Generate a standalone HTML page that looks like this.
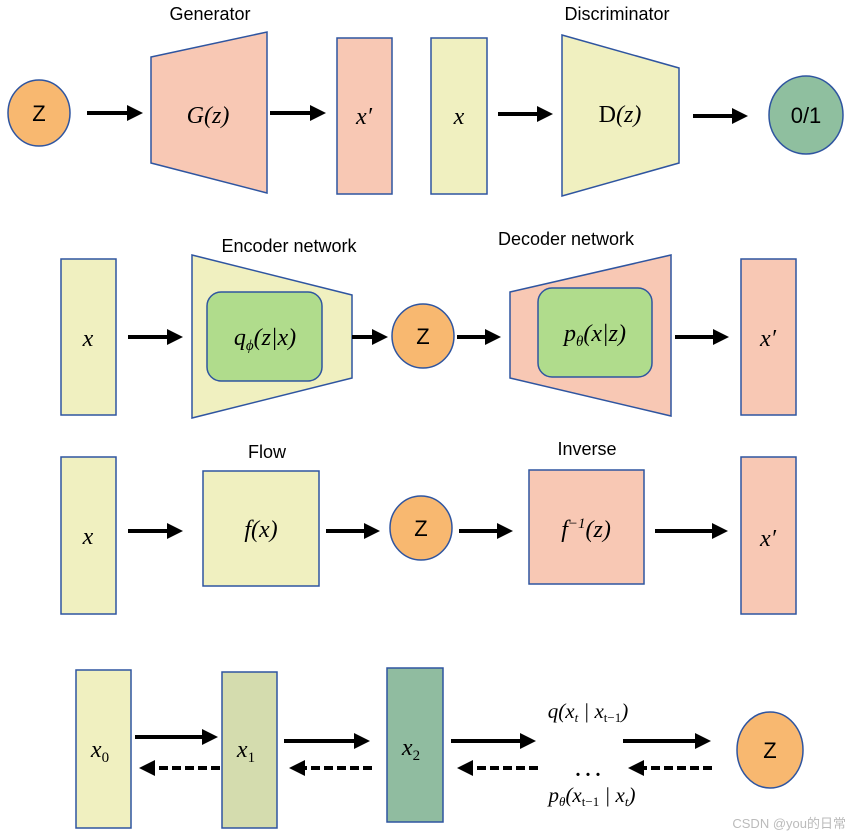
<!DOCTYPE html>
<html><head><meta charset="utf-8"><style>body{margin:0;background:#fff}svg{display:block}</style></head><body>
<svg width="850" height="837" viewBox="0 0 850 837" xmlns="http://www.w3.org/2000/svg">
<defs>
<marker id="a" markerWidth="4" markerHeight="4" refX="3" refY="2" orient="auto" markerUnits="strokeWidth"><path d="M0,0 L4,2 L0,4 z" fill="#000"/></marker>
</defs>
<g stroke="#2f55a0" stroke-width="1.5">
<ellipse cx="39" cy="113" rx="31" ry="33" fill="#f8b870"/>
<polygon points="151,57 267,32 267,193 151,163" fill="#f8c8b4"/>
<rect x="337" y="38" width="55" height="156" fill="#f8c8b4"/>
<rect x="431" y="38" width="56" height="156" fill="#f0f0c0"/>
<polygon points="562,35 679,68 679,163 562,196" fill="#f0f0c0"/>
<ellipse cx="806" cy="115" rx="37" ry="39" fill="#8fbf9f"/>

<rect x="61" y="259" width="55" height="156" fill="#f0f0c0"/>
<polygon points="192,255 352,295 352,378 192,418" fill="#f0f0c0"/>
<rect x="207" y="292" width="115" height="89" rx="14" fill="#b0dc8c"/>
<ellipse cx="423" cy="336" rx="31" ry="32" fill="#f8b870"/>
<polygon points="510,292 671,255 671,416 510,378" fill="#f8c8b4"/>
<rect x="538" y="288" width="114" height="89" rx="14" fill="#b0dc8c"/>
<rect x="741" y="259" width="55" height="156" fill="#f8c8b4"/>

<rect x="61" y="457" width="55" height="157" fill="#f0f0c0"/>
<rect x="203" y="471" width="116" height="115" fill="#f0f0c0"/>
<ellipse cx="421" cy="528" rx="31" ry="32" fill="#f8b870"/>
<rect x="529" y="470" width="115" height="114" fill="#f8c8b4"/>
<rect x="741" y="457" width="55" height="157" fill="#f8c8b4"/>

<rect x="76" y="670" width="55" height="158" fill="#f0f0c0"/>
<rect x="222" y="672" width="55" height="156" fill="#d4dcae"/>
<rect x="387" y="668" width="56" height="154" fill="#90bca0"/>
<ellipse cx="770" cy="750" rx="33" ry="38" fill="#f8b870"/>
</g>
<g stroke="#000" stroke-width="4" marker-end="url(#a)">
<line x1="87" y1="113" x2="139" y2="113"/>
<line x1="270" y1="113" x2="322" y2="113"/>
<line x1="498" y1="114" x2="549" y2="114"/>
<line x1="693" y1="116" x2="744" y2="116"/>
<line x1="128" y1="337" x2="179" y2="337"/>
<line x1="352" y1="337" x2="384" y2="337"/>
<line x1="457" y1="337" x2="497" y2="337"/>
<line x1="675" y1="337" x2="725" y2="337"/>
<line x1="128" y1="531" x2="179" y2="531"/>
<line x1="326" y1="531" x2="376" y2="531"/>
<line x1="459" y1="531" x2="509" y2="531"/>
<line x1="655" y1="531" x2="724" y2="531"/>
<line x1="135" y1="737" x2="214" y2="737"/>
<line x1="284" y1="741" x2="366" y2="741"/>
<line x1="451" y1="741" x2="532" y2="741"/>
<line x1="623" y1="741" x2="707" y2="741"/>
</g>
<g stroke="#000" stroke-width="4" stroke-dasharray="9,4" marker-end="url(#a)">
<line x1="220" y1="768" x2="143" y2="768"/>
<line x1="372" y1="768" x2="293" y2="768"/>
<line x1="538" y1="768" x2="461" y2="768"/>
<line x1="712" y1="768" x2="632" y2="768"/>
</g>
<g font-family="Liberation Sans, sans-serif" font-size="18" text-anchor="middle" fill="#000">
<text x="210" y="20">Generator</text>
<text x="617" y="20">Discriminator</text>
<text x="289" y="252">Encoder network</text>
<text x="566" y="245">Decoder network</text>
<text x="267" y="458">Flow</text>
<text x="587" y="455">Inverse</text>
<text x="39" y="121" font-size="22">Z</text>
<text x="806" y="123" font-size="22">0/1</text>
<text x="423" y="344" font-size="22">Z</text>
<text x="421" y="536" font-size="22">Z</text>
<text x="770" y="758" font-size="22">Z</text>
<text x="846" y="828" font-size="13" fill="#bbb" text-anchor="end">CSDN @you<tspan font-family="Noto Sans CJK SC, sans-serif">的日常</tspan></text>
</g>
<g font-family="Liberation Serif, serif" font-style="italic" font-size="24" text-anchor="middle" fill="#000">
<text x="208" y="123">G(z)</text>
<text x="364" y="124">x′</text>
<text x="459" y="124">x</text>
<text x="620" y="122"><tspan font-style="normal">D</tspan>(z)</text>
<text x="88" y="346">x</text>
<text x="265" y="345">q<tspan font-size="15" dy="5">ϕ</tspan><tspan dy="-5">(z|x)</tspan></text>
<text x="595" y="341">p<tspan font-size="15" dy="5">θ</tspan><tspan dy="-5">(x|z)</tspan></text>
<text x="768" y="346">x′</text>
<text x="88" y="544">x</text>
<text x="261" y="537">f(x)</text>
<text x="586" y="537">f<tspan font-size="15" dy="-9">−1</tspan><tspan dy="9">(z)</tspan></text>
<text x="768" y="546">x′</text>
<text x="100" y="757">x<tspan font-size="15" dy="5" font-style="normal">0</tspan></text>
<text x="246" y="757">x<tspan font-size="15" dy="5" font-style="normal">1</tspan></text>
<text x="411" y="755">x<tspan font-size="15" dy="5" font-style="normal">2</tspan></text>
<text x="588" y="718" font-size="21">q(x<tspan font-size="13" dy="4">t</tspan><tspan dy="-4"> | x</tspan><tspan font-size="13" dy="4" font-style="normal">t−1</tspan><tspan dy="-4">)</tspan></text>
<text x="592" y="802" font-size="21">p<tspan font-size="13" dy="4">θ</tspan><tspan dy="-4">(x</tspan><tspan font-size="13" dy="4" font-style="normal">t−1</tspan><tspan dy="-4"> | x</tspan><tspan font-size="13" dy="4">t</tspan><tspan dy="-4">)</tspan></text>
<text x="588" y="776" font-style="normal" font-weight="bold" font-size="20">. . .</text>
</g>
</svg>
</body></html>
